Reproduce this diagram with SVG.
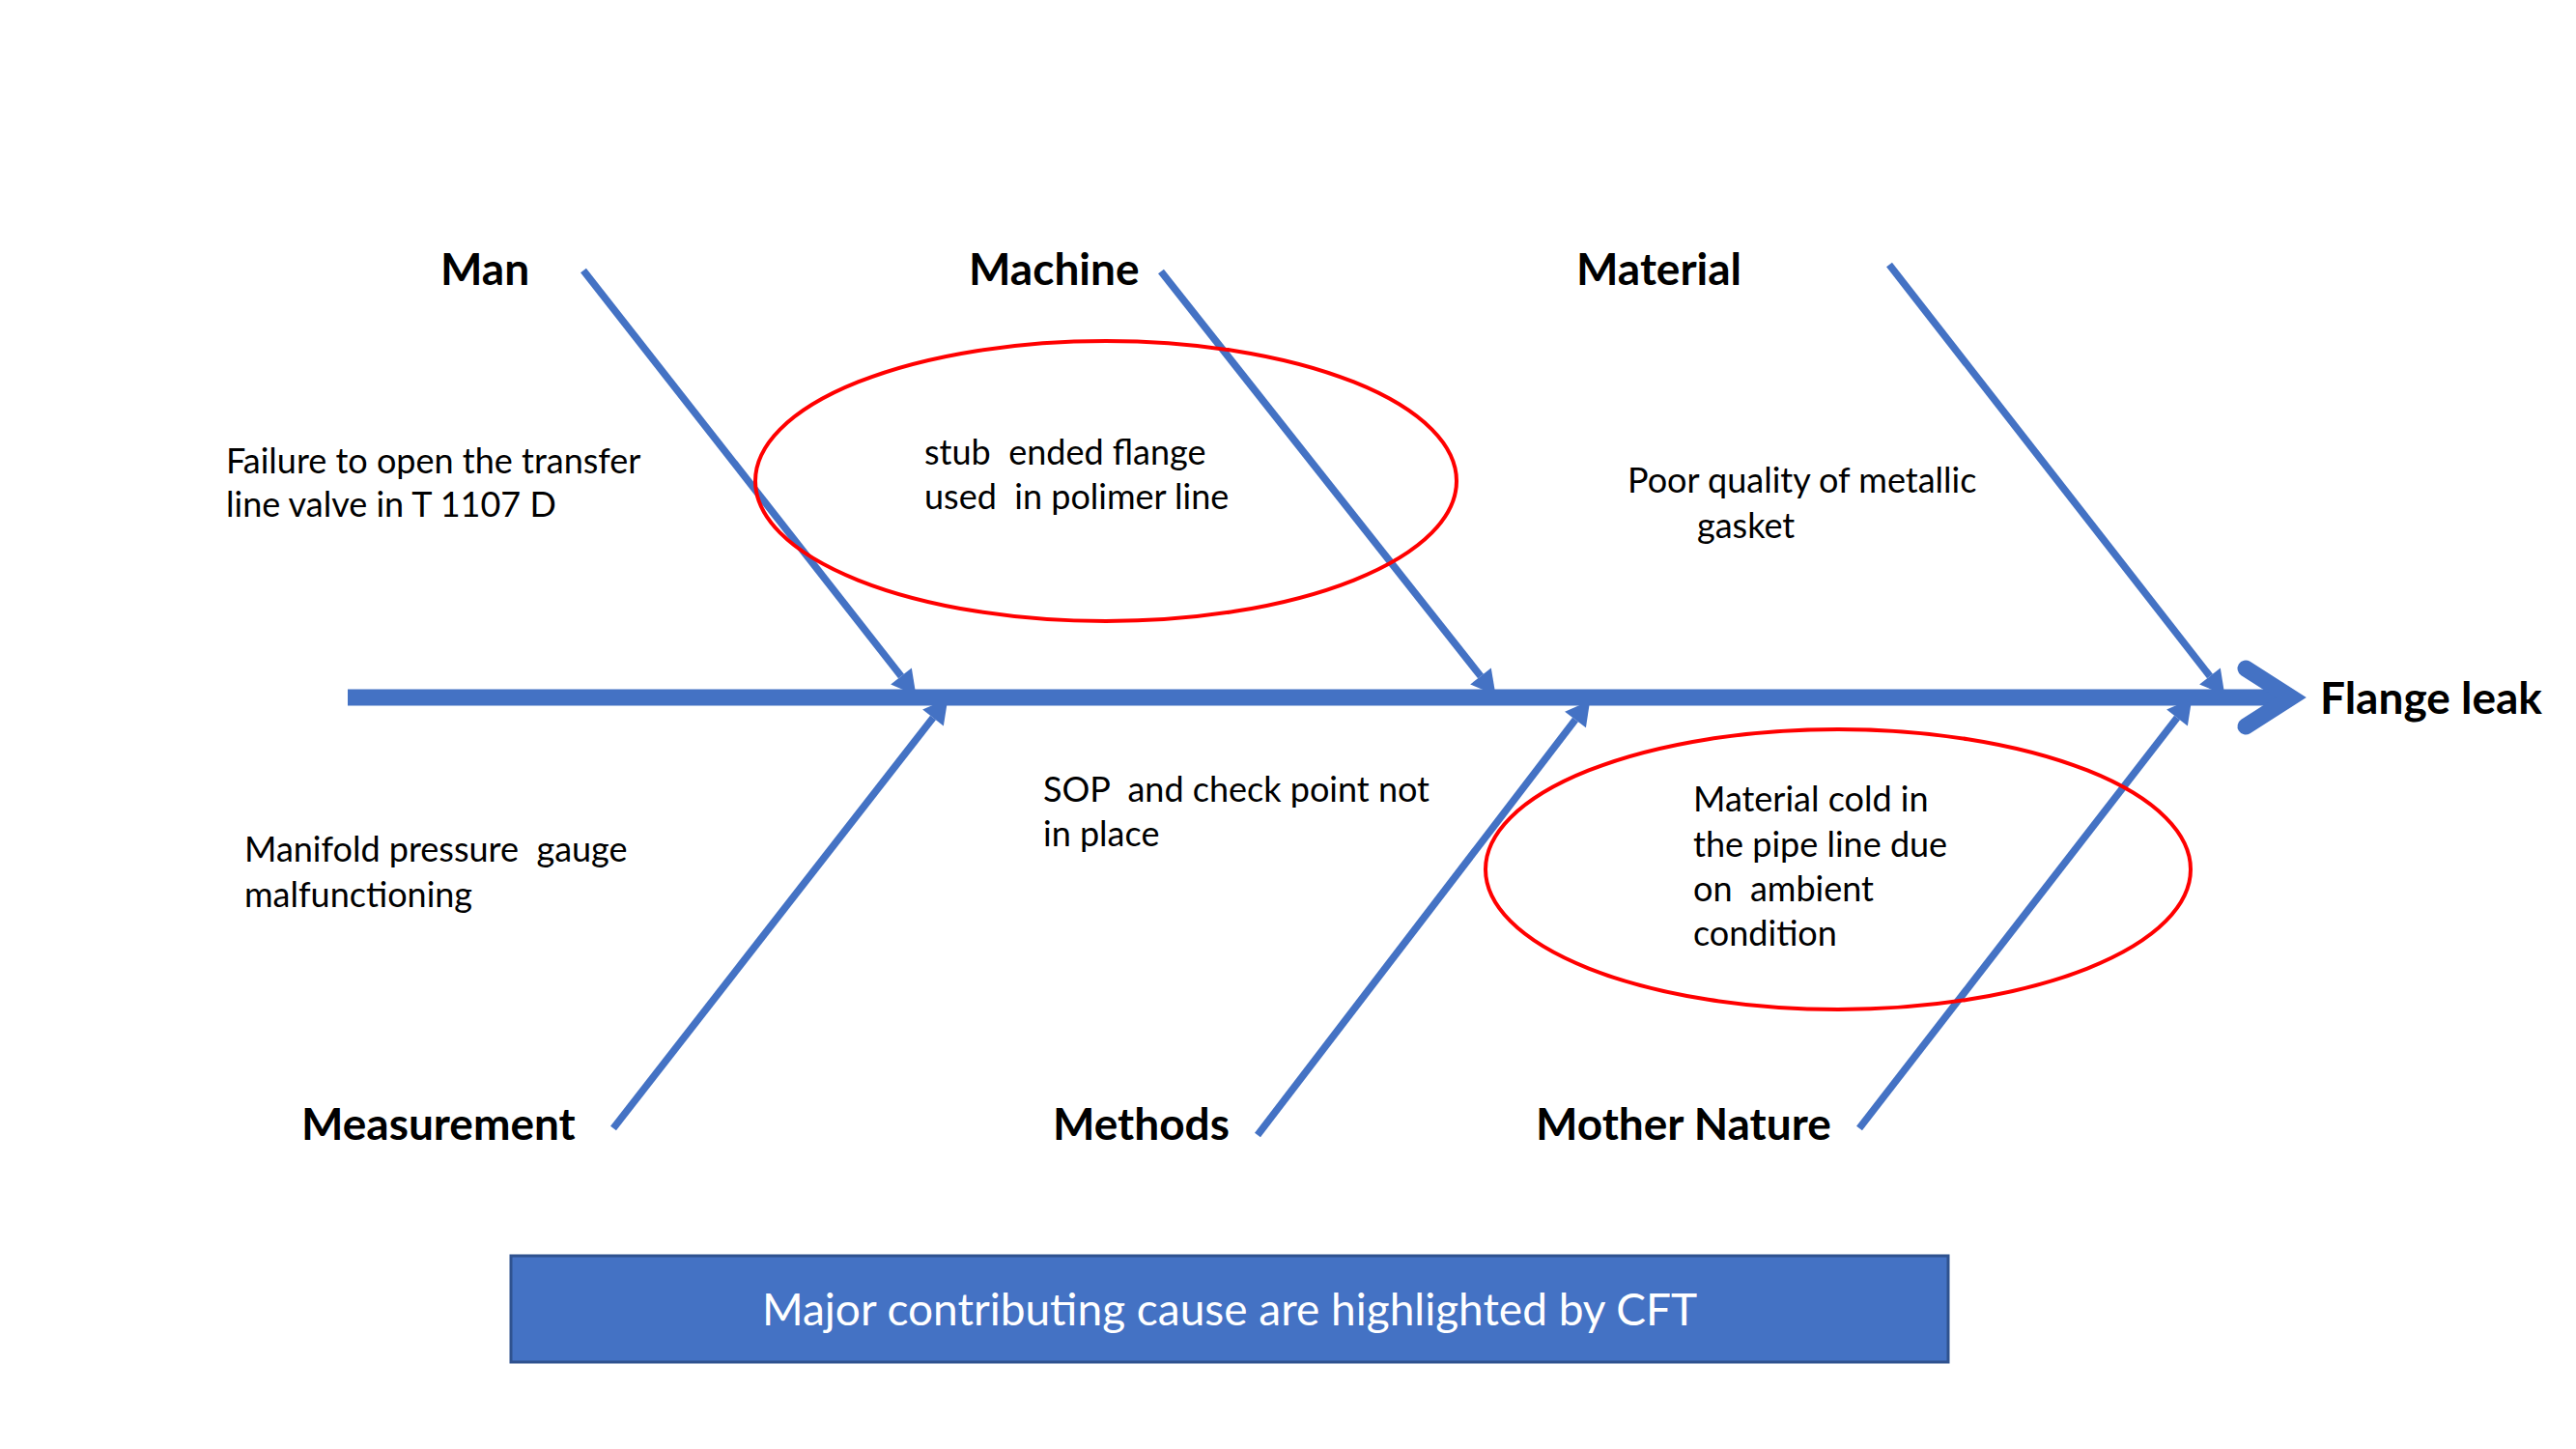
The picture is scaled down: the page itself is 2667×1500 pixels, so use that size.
<svg xmlns="http://www.w3.org/2000/svg" width="2667" height="1500" viewBox="0 0 2667 1500">
<defs>
<style>
.lbl{font-family:Lato,"Liberation Sans",sans-serif;font-weight:bold;font-size:46px;fill:#000}
.txt{font-family:Lato,"Liberation Sans",sans-serif;font-size:36px;fill:#000}
.bone{stroke:#4472C4;stroke-width:7.5;fill:none;marker-end:url(#ah)}
.hl{fill:none;stroke:#FF0000;stroke-width:4}
</style>
<marker id="ah" markerUnits="userSpaceOnUse" markerWidth="30" markerHeight="30" viewBox="-2 -12 24 24" refX="0" refY="0" orient="auto">
<path d="M0,-11 L20,0 L0,11 z" fill="#4472C4"/>
</marker>
</defs>
<rect width="2667" height="1500" fill="#fff"/>
<g id="connectors">
<line class="bone" x1="604" y1="280" x2="933" y2="700"/>
<line class="bone" x1="1202" y1="281" x2="1533" y2="700"/>
<line class="bone" x1="1956" y1="274" x2="2288" y2="700"/>
<line class="bone" x1="635" y1="1168" x2="966" y2="743"/>
<line class="bone" x1="1302" y1="1175" x2="1631" y2="745"/>
<line class="bone" x1="1925" y1="1168" x2="2254" y2="743"/>
<line x1="360" y1="722" x2="2372" y2="722" stroke="#4472C4" stroke-width="17"/>
<polyline points="2325,692 2372,722 2325,752" fill="none" stroke="#4472C4" stroke-width="17" stroke-linecap="round" stroke-linejoin="miter"/>
</g>
<g id="effect"><text class="lbl" x="2402" y="739">Flange leak</text></g>
<g id="man"><text class="lbl" x="456" y="295">Man</text></g>
<g id="machine"><text class="lbl" x="1003" y="295">Machine</text></g>
<g id="material"><text class="lbl" x="1632" y="295">Material</text></g>
<g id="measurement"><text class="lbl" x="312" y="1180">Measurement</text></g>
<g id="methods"><text class="lbl" x="1090" y="1180">Methods</text></g>
<g id="mother-nature"><text class="lbl" x="1590" y="1180">Mother Nature</text></g>
<g id="cause-man"><text class="txt" x="234" y="490">Failure to open the transfer</text><text class="txt" x="234" y="535">line valve in T 1107 D</text></g>
<g id="cause-machine"><ellipse class="hl" cx="1145" cy="498" rx="363" ry="145"/><text class="txt" x="957" y="481" xml:space="preserve">stub  ended flange</text><text class="txt" x="957" y="527" xml:space="preserve">used  in polimer line</text></g>
<g id="cause-material"><text class="txt" x="1685" y="510">Poor quality of metallic</text><text class="txt" x="1757" y="557">gasket</text></g>
<g id="cause-measurement"><text class="txt" x="253" y="892" xml:space="preserve">Manifold pressure  gauge</text><text class="txt" x="253" y="939">malfunctioning</text></g>
<g id="cause-methods"><text class="txt" x="1080" y="830" xml:space="preserve">SOP  and check point not</text><text class="txt" x="1080" y="876">in place</text></g>
<g id="cause-nature"><ellipse class="hl" cx="1903" cy="900" rx="365" ry="145"/><text class="txt" x="1753" y="840">Material cold in</text><text class="txt" x="1753" y="887">the pipe line due</text><text class="txt" x="1753" y="933" xml:space="preserve">on  ambient</text><text class="txt" x="1753" y="979">condition</text></g>
<g id="note"><rect x="529" y="1300" width="1488" height="110" fill="#4472C4" stroke="#2F528F" stroke-width="3"/><text x="1273" y="1372" text-anchor="middle" font-family="Lato,'Liberation Sans',sans-serif" font-size="46" fill="#fff">Major contributing cause are highlighted by CFT</text></g>
</svg>
